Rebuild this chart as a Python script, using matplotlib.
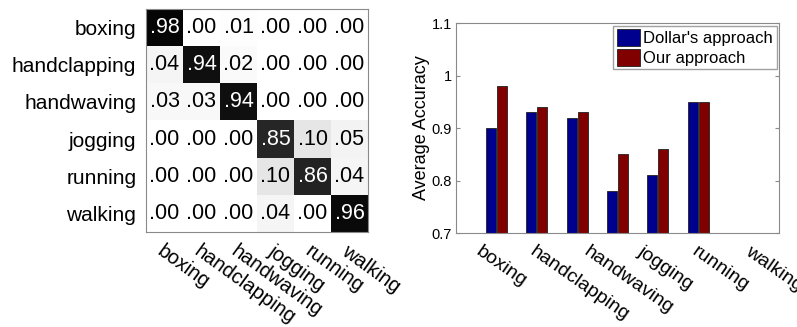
import numpy as np
import matplotlib
matplotlib.use("Agg")
import matplotlib.pyplot as plt

plt.rcParams['font.family'] = ['Liberation Sans', 'DejaVu Sans']

classes = ["boxing", "handclapping", "handwaving", "jogging", "running", "walking"]
confusion = np.array([
    [0.98, 0.00, 0.01, 0.00, 0.00, 0.00],
    [0.04, 0.94, 0.02, 0.00, 0.00, 0.00],
    [0.03, 0.03, 0.94, 0.00, 0.00, 0.00],
    [0.00, 0.00, 0.00, 0.85, 0.10, 0.05],
    [0.00, 0.00, 0.00, 0.10, 0.86, 0.04],
    [0.00, 0.00, 0.00, 0.04, 0.00, 0.96],
])
dollar = [0.90, 0.93, 0.92, 0.78, 0.81, 0.95]
ours = [0.98, 0.94, 0.93, 0.85, 0.86, 0.95]
series_names = ["Dollar's approach", "Our approach"]
yticks = [0.7, 0.8, 0.9, 1.0, 1.1]
ytick_labels = ["0.7", "0.8", "0.9", "1", "1.1"]

fig = plt.figure(figsize=(7.97, 3.27), dpi=100)
edge = "#8a8a8a"

# ---- Confusion matrix ----
ax1 = fig.add_axes([146/797, 1 - 232/327, 222/797, 223/327])
n = len(classes)
ax1.imshow(confusion, cmap="gray_r", vmin=0, vmax=1, aspect="auto",
           interpolation="nearest", extent=(-0.5, n - 0.5, n - 0.5, -0.5))
for i in range(n):
    for j in range(n):
        v = confusion[i, j]
        s = f"{v:.2f}".lstrip("0")
        ax1.text(j, i, s, ha="center", va="center", fontsize=15.5,
                 color="white" if v > 0.5 else "black")
ax1.set_xticks(range(n))
ax1.set_yticks(range(n))
ax1.set_yticklabels(classes, fontsize=15)
ax1.set_xticklabels(classes, fontsize=14.5, rotation=-36, ha="left", va="top",
                    rotation_mode="anchor")
ax1.tick_params(length=0, pad=7)
ax1.tick_params(axis="y", pad=7)
for sp in ax1.spines.values():
    sp.set_color(edge)

# ---- Bar chart ----
ax2 = fig.add_axes([456/797, 1 - 233/327, 323/797, 210/327])
x = np.arange(1, len(dollar) + 1)
w = 0.25
ax2.bar(x - w/2 - 0.01, dollar, w, color="#00008f", edgecolor="#202020",
        linewidth=0.6, label=series_names[0])
ax2.bar(x + w/2 + 0.01, ours, w, color="#800000", edgecolor="#202020",
        linewidth=0.6, label=series_names[1])
ax2.set_xlim(0, 8)
ax2.set_ylim(0.7, 1.1)
ax2.set_yticks(yticks)
ax2.set_yticklabels(ytick_labels, fontsize=10.5)
ax2.set_ylabel("Average Accuracy", fontsize=13, labelpad=1)
ax2.tick_params(axis="y", direction="in", right=True, length=3, color=edge, pad=3)
pos = (np.arange(len(classes)) + 0.5) * 8 / len(classes)
ax2.set_xticks(pos)
ax2.set_xticklabels(classes, fontsize=14, rotation=-35, ha="left", va="top",
                    rotation_mode="anchor")
ax2.tick_params(axis="x", length=0, pad=7)
for sp in ax2.spines.values():
    sp.set_color(edge)
leg = ax2.legend(loc="upper right", fontsize=12, frameon=True, fancybox=False,
                 borderaxespad=0.15, handlelength=1.4, handleheight=1.2,
                 handletextpad=0.2, borderpad=0.2, labelspacing=0.15)
leg.get_frame().set_edgecolor(edge)
leg.get_frame().set_linewidth(1.0)

fig.savefig("out.png", dpi=100)
